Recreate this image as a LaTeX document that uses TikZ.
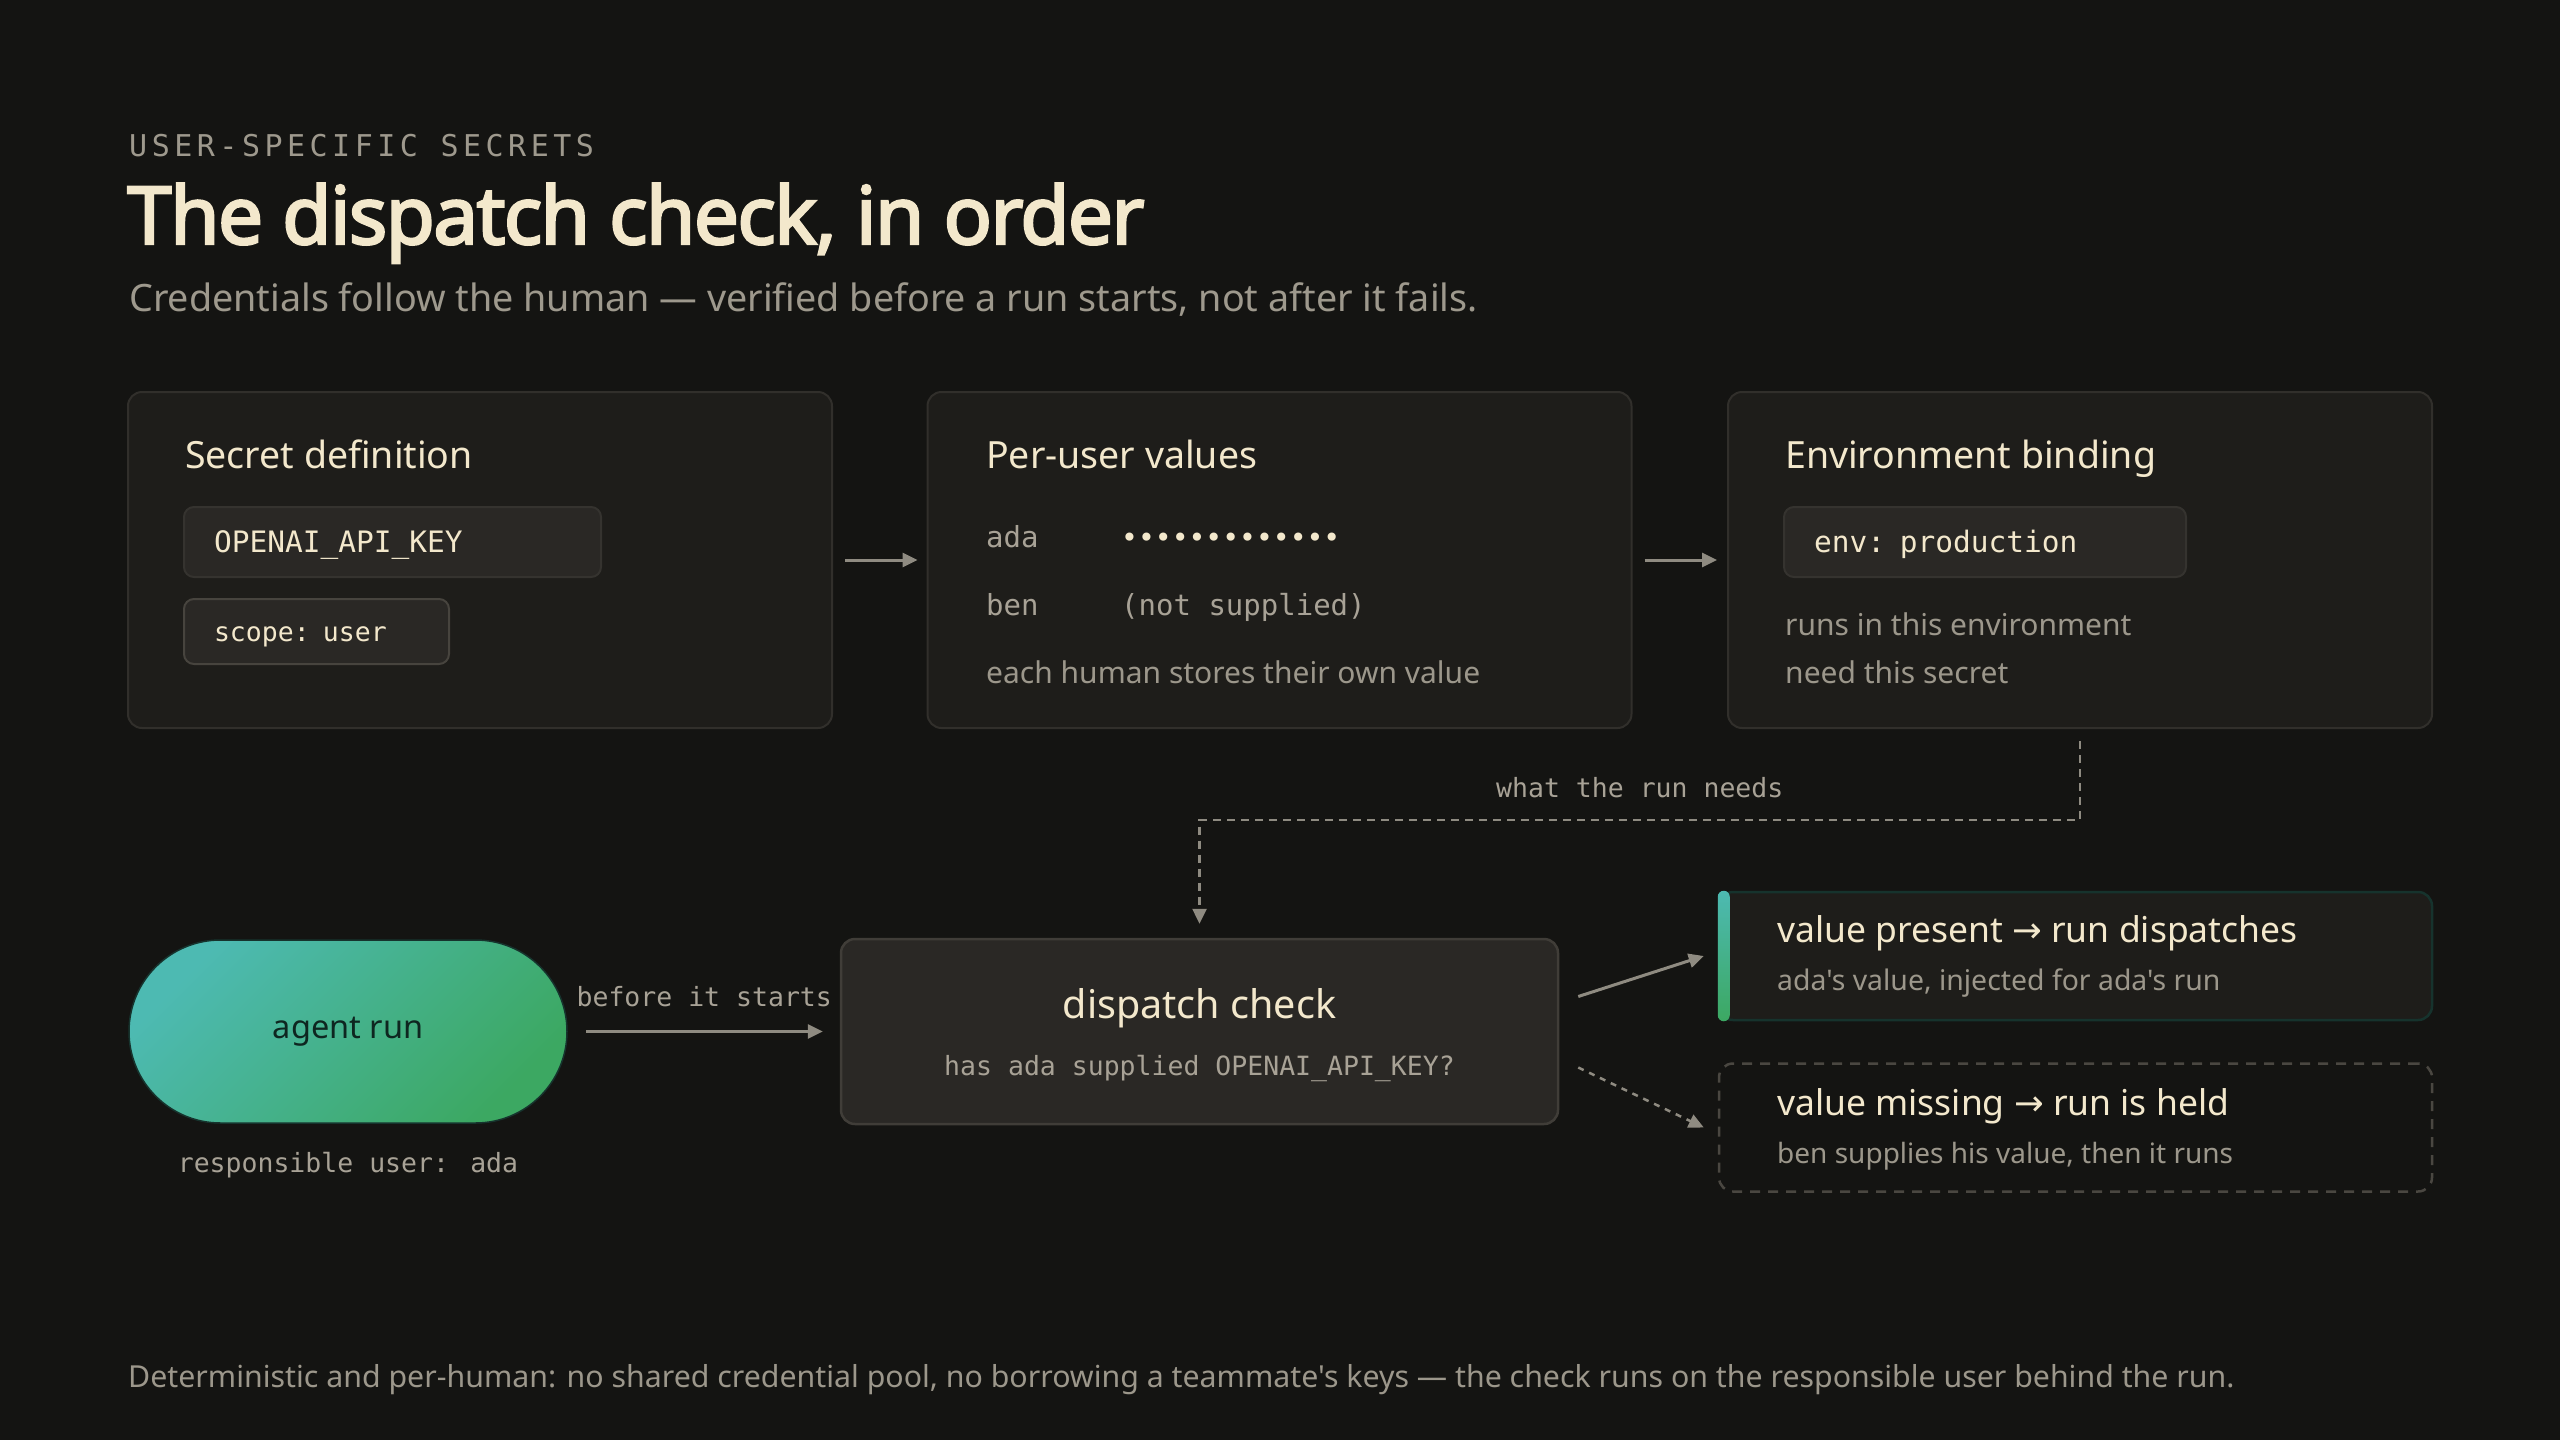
\documentclass[tikz,border=0pt]{standalone}
\usepackage{fontspec}
\setmainfont{Noto Sans}[Ligatures=TeXOff]
\newfontfamily\titlef{Noto Sans}[FakeBold=3, LetterSpace=-2]
\newfontfamily\mono{DejaVu Sans Mono}
\newfontfamily\monotag{DejaVu Sans Mono}[LetterSpace=15]
\newfontfamily\arrowf{DejaVu Sans}
\usetikzlibrary{arrows.meta}
\usetikzlibrary{calc}

\definecolor{bgc}{HTML}{141412}
\definecolor{cardfill}{HTML}{1E1D1A}
\definecolor{cardline}{HTML}{312F2B}
\definecolor{chipfill}{HTML}{2A2825}
\definecolor{chipline}{HTML}{35332F}
\definecolor{scopeline}{HTML}{47443E}
\definecolor{checkline}{HTML}{403D38}
\definecolor{cream}{HTML}{F3E8CC}
\definecolor{subc}{HTML}{9E998D}
\definecolor{bodyc}{HTML}{9C978B}
\definecolor{lblc}{HTML}{A8A296}
\definecolor{arrowc}{HTML}{8F8B81}
\definecolor{tealc}{HTML}{4DBAB2}
\definecolor{greenc}{HTML}{3CA862}
\definecolor{darkc}{HTML}{0E2620}
\definecolor{presentline}{HTML}{16332D}
\definecolor{missline}{HTML}{4A4741}

\newcommand{\fs}[1]{\fontsize{#1pt}{#1pt}\selectfont}

\tikzset{
  txt/.style={anchor=base west, inner sep=0pt},
  head/.style={font=\fs{37.5}, text=cream},
  body/.style={font=\fs{30}, text=bodyc},
  monolbl/.style={font=\mono\fs{29}, text=lblc},
  lbl/.style={inner sep=0pt, font=\mono\fs{26.5}, text=lblc},
  card/.style={draw=cardline, fill=cardfill, line width=2pt, rounded corners=14pt,
    minimum width=704pt, minimum height=336pt, inner sep=0pt},
  chip/.style={anchor=west, draw=chipline, fill=chipfill, line width=2pt,
    rounded corners=10pt, inner xsep=30pt, inner ysep=0pt, align=left,
    text=cream, font=\mono\fs{29.5}, text height=21.5pt, text depth=0pt},
  pill/.style={rounded corners=91.5pt, minimum width=438pt, minimum height=183pt,
    top color=tealc, bottom color=greenc, shading angle=45, draw=presentline,
    line width=1.5pt, text=darkc, font=\fs{32.5}},
  checkbox/.style={draw=checkline, fill=chipfill, line width=2.5pt, rounded corners=14pt,
    minimum width=717pt, minimum height=185pt, inner sep=0pt},
  outbox/.style={line width=2.5pt, rounded corners=14pt, minimum width=713pt,
    minimum height=128pt, inner sep=0pt},
  arr/.style={draw=arrowc, line width=3pt, -{Triangle[length=15pt,width=14pt]}},
  dashline/.style={line width=2.5pt, dash pattern=on 8pt off 6pt},
  dotdash/.style={line width=2.5pt, dash pattern=on 6pt off 6pt},
}

\begin{document}
\begin{tikzpicture}[x=1pt, y=-1pt]

  \fill[bgc] (0,0) rectangle (2560,1440);
  \useasboundingbox (0,0) rectangle (2560,1440);

  % header
  \node[txt, font=\monotag\fs{30}, text=subc] (tag) at (129,156) {USER-SPECIFIC SECRETS};
  \node[txt, font=\titlef\fs{80}, text=cream] (title) at (127,244) {The dispatch check, in order};
  \node[txt, font=\fs{37.7}, text=subc] (subtitle) at (129,311)
    {Credentials follow the human — verified before a run starts, not after it fails.};

  % the three cards
  \node[card] (secdef) at (480,560) {};
  \node[card] (peruser) at (1279.5,560) {};
  \node[card] (envbind) at (2080,560) {};

  \node[txt, head] (secdef-title) at (185,468) {Secret definition};
  \node[chip, text width=357pt, minimum height=70pt] (keychip) at (183,542) {OPENAI\_API\_KEY};
  \node[chip, draw=scopeline, font=\mono\fs{26.5}, text height=19pt, text width=205pt,
    minimum height=65pt] (scopechip) at (183,631.5) {scope: user};

  \node[txt, head] (peruser-title) at (986,468) {Per-user values};
  \node[txt, monolbl] (ada) at (986,547) {ada};
  \node[txt, font=\mono\fs{28}, text=cream] (ada-val) at (1121,547) {•••••••••••••};
  \node[txt, monolbl] (ben) at (986,615) {ben};
  \node[txt, monolbl] (ben-val) at (1121,615) {(not supplied)};
  \node[txt, body] (peruser-note) at (986,683) {each human stores their own value};

  \node[txt, head] (envbind-title) at (1785,468) {Environment binding};
  \node[chip, text width=342pt, minimum height=70pt] (envchip) at (1783,542) {env: production};
  \node[txt, body] (envbind-note1) at (1785,635) {runs in this environment};
  \node[txt, body] (envbind-note2) at (1785,683) {need this secret};

  \draw[arr] ([xshift=12pt]secdef.east) -- ([xshift=-9pt]peruser.west);
  \draw[arr] ([xshift=12pt]peruser.east) -- ([xshift=-10pt]envbind.west);

  % run and check
  \node[pill] (run) at (348,1031.5) {agent run};
  \node[lbl, anchor=base] (resp) at (348,1172) {responsible user: ada};

  \node[checkbox] (check) at (1199.5,1031.5) {};
  \node[anchor=base, inner sep=0pt, font=\fs{39.5}, text=cream] (check-title) at (1199.5,1018) {dispatch check};
  \node[lbl, anchor=base] (check-q) at (1199.5,1075) {has ada supplied OPENAI\_API\_KEY?};

  \draw[arr] ([xshift=18pt]run.east) -- node[lbl, anchor=base, yshift=25pt] (before) {before it starts}
    ([xshift=-17pt]check.west);

  \draw[arr, dashline] ([yshift=-12pt]envbind.south) -- ++(0,79) coordinate (turn)
    -- node[lbl, anchor=base, yshift=23pt] (needs) {what the run needs} (turn -| check.north)
    -- ([yshift=14pt]check.north);

  % outcomes
  \node[outbox, draw=presentline, fill=cardfill] (present) at (2075.5,956) {};
  \shade[top color=tealc, bottom color=greenc, rounded corners=6pt]
    (present.north west) rectangle ([xshift=12pt]present.south west);
  \node[txt, font=\fs{35.5}, text=cream] (present-title) at (1777,942) {value present {\arrowf →} run dispatches};
  \node[txt, font=\fs{28.4}, text=bodyc] (present-note) at (1777,990) {ada's value, injected for ada's run};

  \node[outbox, draw=missline, dash pattern=on 10pt off 8pt] (missing) at (2075.5,1127.5) {};
  \node[txt, font=\fs{35.5}, text=cream] (missing-title) at (1777,1115) {value missing {\arrowf →} run is held};
  \node[txt, font=\fs{28}, text=bodyc] (missing-note) at (1777,1163) {ben supplies his value, then it runs};

  \draw[arr] ([shift={(19pt,35pt)}]check.east) -- ([xshift=-14pt]present.west);
  \draw[arr, dotdash] ([shift={(19pt,-36pt)}]check.east) -- ([xshift=-14pt]missing.west);

  % footer
  \node[txt, font=\fs{30.3}, text=bodyc] (footer) at (128,1387)
    {Deterministic and per-human: no shared credential pool, no borrowing a teammate's keys — the check runs on the responsible user behind the run.};

\end{tikzpicture}
\end{document}
